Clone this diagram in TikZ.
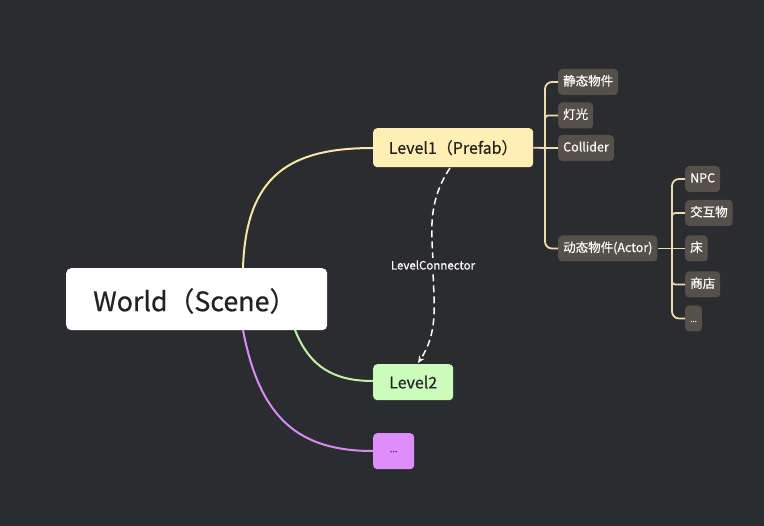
\documentclass[tikz,border=0pt]{standalone}
\usepackage{fontspec}
\setmainfont{Noto Sans CJK SC}[FakeBold=0.4]
\usetikzlibrary{arrows.meta}
\definecolor{bg}{HTML}{2B2C30}
\definecolor{yfill}{HTML}{FFEFB5}
\definecolor{yline}{HTML}{F7E6A6}
\definecolor{gfill}{HTML}{CCFCBB}
\definecolor{gline}{HTML}{BDF2A4}
\definecolor{pfill}{HTML}{DE8DFB}
\definecolor{pline}{HTML}{D98AF5}
\definecolor{cfill}{HTML}{55504A}
\definecolor{cline}{HTML}{EEDDAA}
\definecolor{dtext}{HTML}{222222}
\tikzset{
  lvbox/.style={rounded corners=4pt, anchor=north west, inner sep=0pt, font=\fontsize{16}{19}\selectfont, text=dtext},
  childbox/.style={fill=cfill, rounded corners=4pt, anchor=west, inner sep=0pt, text height=10pt, text depth=3pt, minimum height=26pt, inner xsep=5pt, font=\fontsize{12.5}{15}\selectfont, text=white},
  conn/.style={line width=2pt},
  tree/.style={cline, line width=1.8pt},
}
\begin{document}
\begin{tikzpicture}[x=1pt,y=-1pt]
\fill[bg] (0,0) rectangle (764,526);
\useasboundingbox (0,0) rectangle (764,526);

% main connectors (behind the boxes)
\coordinate (wy) at (243,268);
\coordinate (wg) at (295,330);
\coordinate (wp) at (243,330);
\draw[conn, yline] (wy) .. controls (246,175) and (290,148) .. (373,148);
\draw[conn, gline] (wg) .. controls (310,368) and (335,381) .. (373,381);
\draw[conn, pline] (wp) .. controls (260,420) and (300,451) .. (373,451);

% World
\node[fill=white, rounded corners=5pt, anchor=north west, minimum width=261pt, minimum height=62pt, inner sep=0pt] (W) at (66,268) {};
\node[anchor=west, inner sep=0pt, font=\fontsize{26.8}{32}\selectfont, text=dtext] (Wt) at (93,301) {World（Scene）};

% Level boxes
\node[lvbox, fill=yfill, minimum width=160pt, minimum height=39pt] (L1) at (373,128) {Level1（Prefab）};
\node[lvbox, fill=gfill, minimum width=80pt, minimum height=36pt] (L2) at (373,364) {Level2};
\node[lvbox, fill=pfill, minimum width=41pt, minimum height=36pt, font=\fontsize{9}{10}\selectfont] (L3) at (373,433) {\raisebox{-2pt}{...}};

% Level connector
\draw[white, line width=1.5pt, dash pattern=on 7pt off 4pt, -{Stealth[length=7pt,width=6pt]}]
  (450,168) .. controls (425,205) and (433,240) .. (433,265)
  node[fill=bg, inner sep=2pt, text=white, font=\fontsize{11.5}{13}\selectfont, solid] (LC) {LevelConnector}
  .. controls (433,300) and (440,330) .. (418,363);

% children of Level1
\node[childbox] (c1) at (558,82) {静态物件};
\node[childbox] (c2) at (558,115.5) {灯光};
\node[childbox] (c3) at (558,148) {Collider};
\node[childbox] (c4) at (558,248.5) {动态物件(Actor)};
\coordinate (t1) at (545,148);
\draw[tree] (L1.east) -- (t1) -- (c3.west);
\draw[tree, rounded corners=7pt] (c1.west) -- (545,82) -- (545,248.5) -- (c4.west);
\draw[tree] (c2.west) -- (552,115.5) .. controls (545,115.5) .. (545,123);

% children of Actor
\node[childbox] (d1) at (685,179) {NPC};
\node[childbox] (d2) at (685,213) {交互物};
\node[childbox] (d3) at (685,248.5) {床};
\node[childbox] (d4) at (685,284.5) {商店};
\node[childbox, font=\fontsize{8}{10}\selectfont] (d5) at (685,318.5) {...};
\coordinate (t2) at (672,248.5);
\draw[tree] (c4.east) -- (t2) -- (d3.west);
\draw[tree, rounded corners=7pt] (d1.west) -- (672,179) -- (672,318.5) -- (d5.west);
\draw[tree] (d2.west) -- (679,213) .. controls (672,213) .. (672,220);
\draw[tree] (d4.west) -- (679,284.5) .. controls (672,284.5) .. (672,277.5);
\end{tikzpicture}
\end{document}
